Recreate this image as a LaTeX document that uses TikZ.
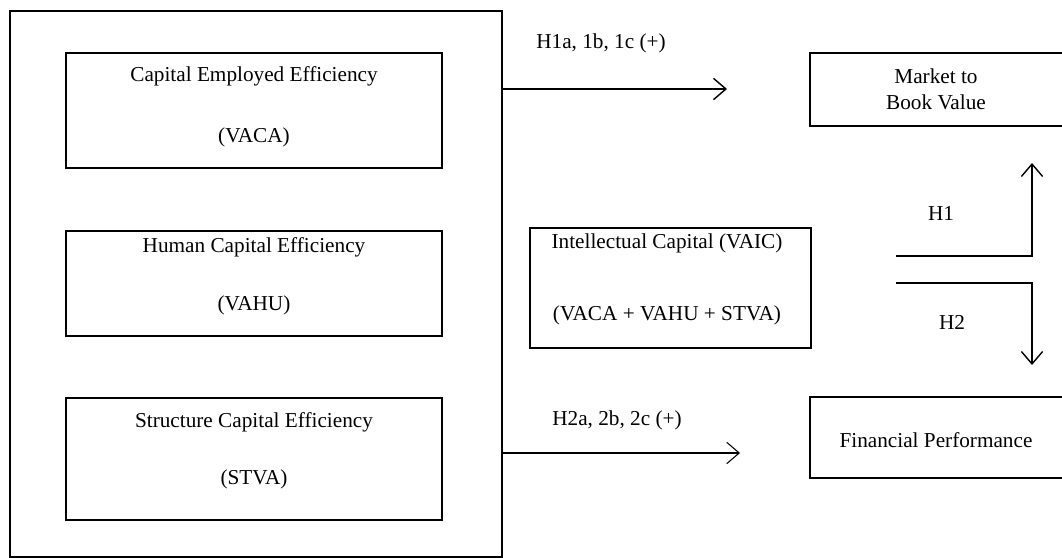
\documentclass[tikz,border=0pt]{standalone}
\usepackage{fontspec}
\setmainfont{Liberation Serif}
\usetikzlibrary{arrows.meta, fit}

\tikzset{
	box/.style = {draw, line width = 1.2pt, inner sep = 0pt},
	txt/.style = {font = \fontsize{12pt}{14pt}\selectfont, inner sep = 0pt},
	arr/.style = {line width = 0.8pt, -{Straight Barb[length = 7pt, width = 12pt]}}
}

\begin{document}
\begin{tikzpicture}[x = 0.565pt, y = -0.565pt]
	\useasboundingbox (0,0) rectangle (1062,558);
	\node[box, fit = {(10,11) (502,557)}] (outer) {};
	\node[box, fit = {(66,53) (442,168)}] (vaca) {};
	\node[box, fit = {(66,231) (442,336)}] (vahu) {};
	\node[box, fit = {(66,398) (442,520)}] (stva) {};
	\node[box, fit = {(530,228) (811,348)}] (vaic) {};
	\node[box, fit = {(810,53) (1066,126)}] (mbv) {};
	\node[box, fit = {(810,397) (1066,478)}] (fp) {};
	\node[txt] (vacaA) at (254,76) {Capital Employed Efficiency}; \node[txt] (vacaB) at (254,137) {(VACA)};
	\node[txt] (vahuA) at (254,247) {Human Capital Efficiency}; \node[txt] (vahuB) at (254,305) {(VAHU)};
	\node[txt] (stvaA) at (254,422) {Structure Capital Efficiency}; \node[txt] (stvaB) at (254,479) {(STVA)};
	\node[txt] (vaicA) at (667,243) {Intellectual Capital (VAIC)}; \node[txt] (vaicB) at (667,315) {(VACA + VAHU + STVA)};
	\node[txt] (mbvA) at (936,76) {Market to}; \node[txt] (mbvB) at (936,102) {Book Value};
	\node[txt] (fpA) at (936,440) {Financial Performance};
	\coordinate (t1) at (727,89); \coordinate (t2) at (740,453);
	\draw[arr] (outer.east |- t1) -- (t1);
	\draw[arr, line width = 0.6pt] (outer.east |- t2) -- (t2);
	\node[txt, anchor = west] (l1) at (536,43) {H1a, 1b, 1c (+)};
	\node[txt, anchor = west] (l2) at (552,420) {H2a, 2b, 2c (+)};
	\coordinate (h1s) at (896,256); \coordinate (h1e) at (1032,163);
	\coordinate (h2s) at (896,283); \coordinate (h2e) at (1032,365);
	\draw[arr] (h1s) -| (h1e);
	\draw[arr] (h2s) -| (h2e);
	\node[txt] (h1) at (941,213) {H1};
	\node[txt] (h2) at (952,322) {H2};
\end{tikzpicture}
\end{document}
